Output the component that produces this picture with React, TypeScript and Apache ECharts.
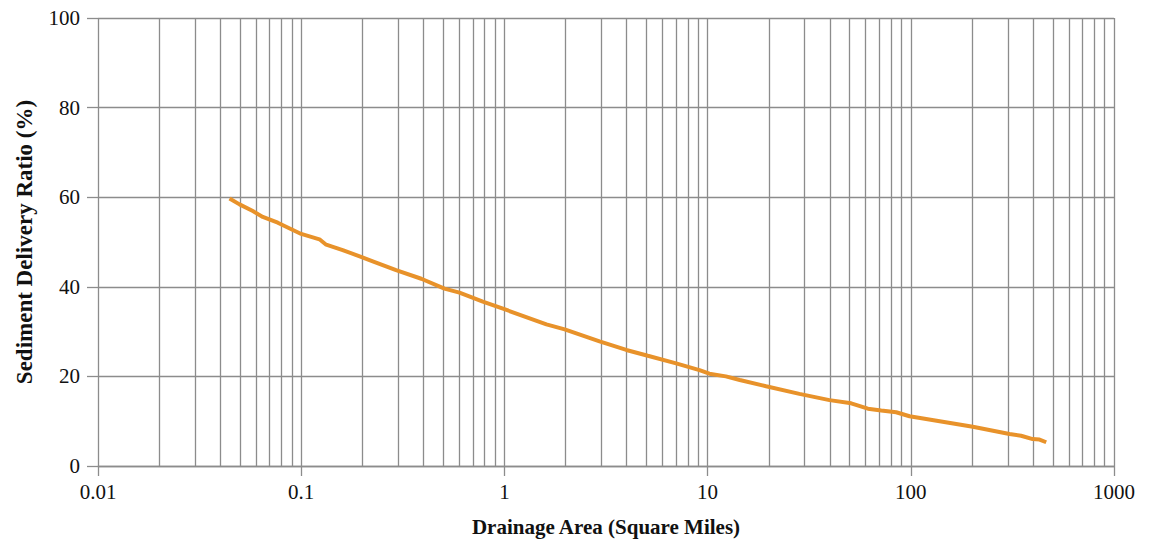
import React, { useEffect, useRef } from "react";
import * as echarts from "echarts";

const areaSqMi = [
  0.0444, 0.0497, 0.0578, 0.0647, 0.0767, 0.1, 0.123, 0.1327, 0.16, 0.197, 0.225, 0.293,
  0.39, 0.507, 0.601, 0.783, 1, 1.61, 1.98, 2.94, 3.98, 5.08, 7.0, 9.12, 10.2, 12.3,
  14.4, 19.4, 28.3, 39.8, 50.9, 61.5, 71.5, 84.7, 98.6, 202, 306, 349, 398, 430, 464,
];
const sdrPct = [
  59.7, 58.4, 56.9, 55.6, 54.3, 51.8, 50.6, 49.4, 48.2, 46.7, 45.7, 43.7,
  41.8, 39.6, 38.7, 36.7, 35.0, 31.6, 30.5, 27.8, 25.9, 24.6, 22.9, 21.4, 20.6, 20.0,
  19.2, 17.8, 16.1, 14.7, 14.0, 12.8, 12.4, 12.0, 11.1, 8.76, 7.13, 6.75, 6.0, 5.9, 5.3,
];
const xDecades = [0.01, 0.1, 1, 10, 100];
const xTickLabels = ["0.01", "0.1", "1", "10", "100", "1000"];
const minorSteps = [2, 3, 4, 5, 6, 7, 8, 9];
const yTicks = [0, 20, 40, 60, 80, 100];

const xTitle = "Drainage Area (Square Miles)";
const yTitle = "Sediment Delivery Ratio (%)";

const GRID = "#8c8c8c";
const LINE = "#E8922A";
const FONT = "'Liberation Serif', 'Times New Roman', serif";

export default function App() {
  const ref = useRef<HTMLDivElement>(null);
  useEffect(() => {
    if (!ref.current) return;
    const chart = echarts.init(ref.current, undefined, { renderer: "svg" });
    const minorValues: number[] = [];
    xDecades.forEach((d) => minorSteps.forEach((s) => minorValues.push(d * s)));
    const data = areaSqMi.map((a, i) => [a, sdrPct[i]]);
    chart.setOption({
      animation: false,
      backgroundColor: "#ffffff",
      grid: { left: 98, right: 38, top: 18, bottom: 71, containLabel: false },
      xAxis: {
        type: "log",
        logBase: 10,
        min: 0.01,
        max: 1000,
        name: xTitle,
        nameLocation: "middle",
        nameGap: 50,
        nameTextStyle: { fontFamily: FONT, fontWeight: "bold", fontSize: 21, color: "#111" },
        axisLine: { show: true, lineStyle: { color: GRID, width: 1.3 } },
        axisTick: { show: true, length: 10, lineStyle: { color: GRID, width: 1.3 } },
        axisLabel: {
          fontFamily: FONT,
          fontSize: 21,
          color: "#111",
          margin: 15,
          formatter: (v: number) => xTickLabels[Math.round(Math.log10(v)) + 2] ?? String(v),
        },
        splitLine: { show: true, lineStyle: { color: GRID, width: 1.3 } },
      },
      yAxis: {
        type: "value",
        min: 0,
        max: 100,
        interval: 20,
        name: yTitle,
        nameLocation: "middle",
        nameGap: 62,
        nameTextStyle: { fontFamily: FONT, fontWeight: "bold", fontSize: 23, color: "#111" },
        axisLine: { show: false },
        axisTick: { show: true, length: 11, lineStyle: { color: GRID, width: 1.3 } },
        axisLabel: {
          fontFamily: FONT,
          fontSize: 21,
          color: "#111",
          margin: 18,
          formatter: (v: number) => (yTicks.includes(v) ? String(v) : ""),
        },
        splitLine: { show: true, lineStyle: { color: GRID, width: 1.3 } },
      },
      series: [
        {
          type: "line",
          data,
          z: 1,
          silent: true,
          showSymbol: false,
          lineStyle: { opacity: 0 },
          markLine: {
            silent: true,
            symbol: "none",
            label: { show: false },
            lineStyle: { color: GRID, width: 1.3, type: "solid" },
            data: minorValues.map((v) => ({ xAxis: v })),
          },
        },
        {
          type: "line",
          data,
          z: 5,
          showSymbol: false,
          smooth: false,
          lineStyle: { color: LINE, width: 4 },
        },
      ],
    });
    return () => chart.dispose();
  }, []);
  return (
    <div
      ref={ref}
      style={{ position: "absolute", left: 0, top: 0, width: 1152, height: 542 }}
    />
  );
}
